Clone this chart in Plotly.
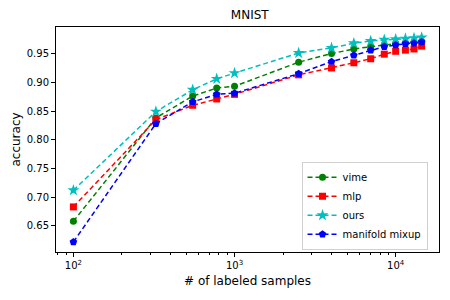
import plotly.graph_objects as go

n_labeled = [100, 325, 550, 775, 1000, 2500, 4000, 5500, 7000, 8500, 10000, 11500, 13000, 14500]

vime = [0.658, 0.838, 0.876, 0.890, 0.893, 0.935, 0.950, 0.958, 0.962, 0.965, 0.968, 0.969, 0.970, 0.971]
mlp = [0.683, 0.835, 0.860, 0.871, 0.879, 0.913, 0.925, 0.934, 0.941, 0.949, 0.954, 0.956, 0.958, 0.963]
ours = [0.712, 0.849, 0.887, 0.906, 0.916, 0.951, 0.960, 0.968, 0.972, 0.974, 0.975, 0.976, 0.977, 0.978]
manifold_mixup = [0.622, 0.828, 0.866, 0.879, 0.881, 0.915, 0.936, 0.947, 0.956, 0.962, 0.965, 0.967, 0.968, 0.970]

series_names = ["vime", "mlp", "ours", "manifold mixup"]
series_values = [vime, mlp, ours, manifold_mixup]
series_colors = ["#008000", "#ff0000", "#00bfbf", "#0000ff"]
series_symbols = ["circle", "square", "star", "pentagon"]
marker_sizes = [7, 7, 9, 8]

y_ticks = [0.65, 0.70, 0.75, 0.80, 0.85, 0.90, 0.95]
x_ticks = [100, 1000, 10000]
x_tick_labels = ["10<sup>2</sup>", "10<sup>3</sup>", "10<sup>4</sup>"]
x_minor = [m * d for d in (10, 100, 1000, 10000) for m in range(2, 10)]

fig = go.Figure()
for name, vals, col, sym, ms in zip(series_names, series_values, series_colors, series_symbols, marker_sizes):
    fig.add_trace(go.Scatter(
        x=n_labeled, y=vals, name=name, mode="lines+markers",
        line=dict(color=col, width=1.5, dash="5px,3px"),
        marker=dict(symbol=sym, size=ms, color=col, line=dict(width=0)),
    ))

fig.update_layout(
    width=450, height=300,
    margin=dict(l=56, r=11, t=27, b=48, autoexpand=False),
    paper_bgcolor="white", plot_bgcolor="white",
    font=dict(family="DejaVu Sans", size=10, color="black"),
    title=dict(text="MNIST", x=0.555, xanchor="center", y=0.95, yanchor="middle",
               font=dict(size=12), automargin=False),
    showlegend=True,
    legend=dict(x=0.97, y=0.01, xanchor="right", yanchor="bottom",
                bgcolor="white", bordercolor="#d0d0d0", borderwidth=1,
                font=dict(size=10), tracegroupgap=0, itemwidth=30),
)
fig.update_xaxes(
    type="log", range=[1.892, 4.269], automargin=False,
    tickvals=x_ticks, ticktext=x_tick_labels,
    ticks="outside", ticklen=4, tickwidth=1, tickcolor="black",
    showline=True, mirror=True, linecolor="black", linewidth=1,
    showgrid=False, zeroline=False,
    minor=dict(tickvals=x_minor, ticks="outside", ticklen=2, tickcolor="black", showgrid=False),
    title=dict(text="# of labeled samples", standoff=6),
)
fig.update_yaxes(
    range=[0.6045, 0.9963], automargin=False,
    tickvals=y_ticks, tickformat=".2f",
    ticks="outside", ticklen=4, tickwidth=1, tickcolor="black",
    showline=True, mirror=True, linecolor="black", linewidth=1,
    showgrid=False, zeroline=False,
    title=dict(text="accuracy", standoff=3),
)

fig.write_html("out.html", config={"displayModeBar": False},
               post_script="document.body.style.margin='0';")
